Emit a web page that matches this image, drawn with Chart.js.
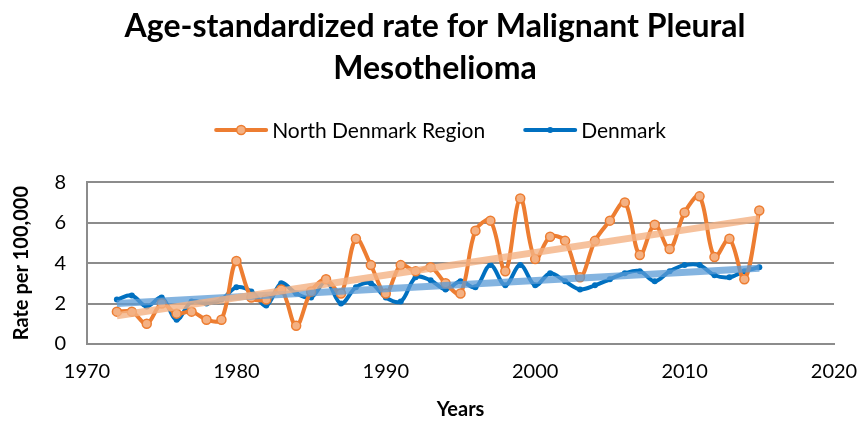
<!DOCTYPE html>
<html>
<head>
<meta charset="utf-8">
<script src="https://cdn.jsdelivr.net/npm/chart.js@4"></script>
<style>
html,body{margin:0;padding:0;background:#fff;}
#wrap{width:863px;height:422px;}
</style>
</head>
<body>
<div id="wrap"><canvas id="c" width="863" height="422"></canvas></div>
<script>
const years = [1972,1973,1974,1975,1976,1977,1978,1979,1980,1981,1982,1983,1984,1985,1986,1987,1988,1989,1990,1991,1992,1993,1994,1995,1996,1997,1998,1999,2000,2001,2002,2003,2004,2005,2006,2007,2008,2009,2010,2011,2012,2013,2014,2015];
const northDenmark = [1.6,1.6,1.0,2.0,1.5,1.6,1.2,1.2,4.1,2.3,2.2,2.7,0.9,2.6,3.2,2.5,5.2,3.9,2.5,3.9,3.6,3.8,3.0,2.5,5.6,6.1,3.6,7.2,4.2,5.3,5.1,3.3,5.1,6.1,7.0,4.4,5.9,4.7,6.5,7.3,4.3,5.2,3.2,6.6];
const denmark = [2.2,2.4,1.85,2.3,1.2,2.1,2.0,2.2,2.8,2.6,1.9,3.0,2.5,2.3,3.1,2.0,2.8,3.0,2.3,2.1,3.3,3.15,2.7,3.1,2.8,3.9,2.9,3.9,2.9,3.5,3.1,2.7,2.9,3.2,3.5,3.6,3.1,3.6,3.9,3.9,3.4,3.3,3.6,3.8];
const trendYears = [1972, 2015];
const trendNorth = [1.4, 6.2];
const trendDenmark = [2.0, 3.75];
const yTicks = [0,2,4,6,8];
const xTicks = [1970,1980,1990,2000,2010,2020];
const seriesNames = ['North Denmark Region', 'Denmark'];

const ORANGE = '#ED7D31', ORANGE_FILL = '#F4B183', BLUE = '#0070C0';
const FONT = 'Lato, "Open Sans", sans-serif';

function pts(xs, ys){ return xs.map((x,i)=>({x:x, y:ys[i]})); }

// custom legend (line + marker + text), drawn in the space reserved below the title
const legendPlugin = {
  id: 'lineLegend',
  afterDraw(chart) {
    const ctx = chart.ctx;
    const items = [
      { text: seriesNames[0], color: ORANGE, fill: ORANGE_FILL, r: 4.5, bw: 1.5 },
      { text: seriesNames[1], color: BLUE, fill: BLUE, r: 3, bw: 0 }
    ];
    const lineW = 54, gapText = 4, gapItem = 38, cy = 130, cx = 440;
    ctx.save();
    ctx.font = '21px ' + FONT;
    const widths = items.map(it => ctx.measureText(it.text).width);
    let total = 0;
    items.forEach((it,i) => { total += lineW + gapText + widths[i]; if (i) total += gapItem; });
    let x = cx - total / 2;
    items.forEach((it,i) => {
      ctx.strokeStyle = it.color; ctx.lineWidth = 4; ctx.lineCap = 'round';
      ctx.beginPath(); ctx.moveTo(x + 2, cy); ctx.lineTo(x + lineW - 2, cy); ctx.stroke();
      ctx.beginPath(); ctx.arc(x + lineW/2, cy, it.r, 0, Math.PI*2);
      ctx.fillStyle = it.fill; ctx.fill();
      if (it.bw) { ctx.lineWidth = it.bw; ctx.strokeStyle = it.color; ctx.stroke(); }
      ctx.fillStyle = '#000'; ctx.textBaseline = 'middle'; ctx.textAlign = 'left';
      ctx.fillText(it.text, x + lineW + gapText, cy + 1);
      x += lineW + gapText + widths[i] + gapItem;
    });
    ctx.restore();
  }
};

new Chart(document.getElementById('c'), {
  type: 'line',
  data: {
    datasets: [
      {
        label: seriesNames[0],
        data: pts(years, northDenmark),
        borderColor: ORANGE, backgroundColor: ORANGE_FILL,
        borderWidth: 4, tension: 0.35,
        pointRadius: 4.5, pointBorderWidth: 1.5, pointBorderColor: ORANGE, pointBackgroundColor: ORANGE_FILL,
        order: 2
      },
      {
        label: seriesNames[1],
        data: pts(years, denmark),
        borderColor: BLUE, backgroundColor: BLUE,
        borderWidth: 4, tension: 0.35,
        pointRadius: 3, pointBorderWidth: 0, pointBackgroundColor: BLUE,
        order: 3
      },
      {
        label: 'trendN',
        data: pts(trendYears, trendNorth),
        borderColor: 'rgba(244,177,131,0.8)', borderWidth: 7,
        pointRadius: 0, tension: 0, order: 0
      },
      {
        label: 'trendD',
        data: pts(trendYears, trendDenmark),
        borderColor: 'rgba(91,155,213,0.75)', borderWidth: 7,
        pointRadius: 0, tension: 0, order: 1
      }
    ]
  },
  plugins: [legendPlugin],
  options: {
    responsive: false,
    animation: false,
    layout: { padding: { left: 36, right: 29, top: 4, bottom: 0 } },
    plugins: {
      title: {
        display: true,
        text: ['Age-standardized rate for Malignant Pleural', 'Mesothelioma'],
        color: '#000',
        font: { family: FONT, size: 32, weight: 'bold', lineHeight: 1.3 },
        padding: { top: 2, bottom: 93 }
      },
      legend: { display: false },
      tooltip: { enabled: false }
    },
    scales: {
      x: {
        type: 'linear',
        min: 1970, max: 2020,
        afterBuildTicks: (s) => { s.ticks = xTicks.map(v => ({value: v})); },
        afterFit: (s) => { s.height = 78; s.paddingLeft = 0; s.paddingRight = 0; },
        grid: { display: false, drawTicks: false },
        border: { display: true, color: '#8c8c8c', width: 2 },
        ticks: { color: '#000', font: { family: FONT, size: 20, lineHeight: 1 }, padding: 18, maxRotation: 0, callback: (v) => String(v) },
        title: { display: true, text: 'Years', color: '#000', font: { family: FONT, size: 20, weight: 'bold', lineHeight: 1 }, padding: { top: 0, bottom: 2 } }
      },
      y: {
        min: 0, max: 8,
        afterBuildTicks: (s) => { s.ticks = yTicks.map(v => ({value: v})); },
        afterFit: (s) => { s.width = 51; s.paddingTop = 0; s.paddingBottom = 0; },
        grid: { color: '#8c8c8c', lineWidth: 2, drawTicks: false },
        border: { display: true, color: '#8c8c8c', width: 2 },
        ticks: { color: '#000', font: { family: FONT, size: 20 }, padding: 21, callback: (v) => String(v) },
        title: { display: true, text: 'Rate per 100,000', color: '#000', font: { family: FONT, size: 20, weight: 'bold' }, padding: { top: -26, bottom: 0 } }
      }
    }
  }
});
</script>
</body>
</html>
